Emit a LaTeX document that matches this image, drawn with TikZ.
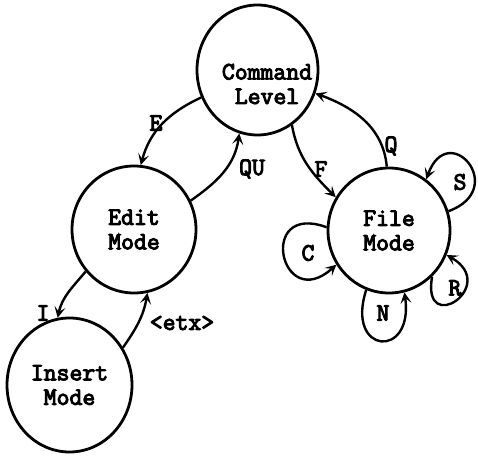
\documentclass[tikz,border=0pt]{standalone}
\usepackage{fontspec}
\setmonofont{Latin Modern Mono}[AutoFakeBold=4]
\usetikzlibrary{shapes.geometric,arrows.meta}
\begin{document}
\begin{tikzpicture}[x=1pt,y=1pt,
  state/.style={draw,ellipse,line width=2.8pt,inner sep=0pt},
  txt/.style={font=\ttfamily\bfseries\fontsize{25}{24.5}\selectfont,align=center,inner sep=0pt},
  lbl/.style={font=\ttfamily\bfseries\fontsize{25}{24}\selectfont,inner sep=0pt},
  arr/.style={line width=2.4pt,-{Stealth[length=11pt,width=11pt,inset=5pt]}}]
\useasboundingbox (0,0) rectangle (478,455);
% states
\node[state,minimum width=121pt,minimum height=130pt] (CL) at (257.5,385) {};
\node[txt] (CLt) at (267,371) {Command\\Level};
\node[state,minimum width=124pt,minimum height=127pt,txt] (ED) at (134,225.5) {Edit\\Mode};
\node[state,minimum width=122pt,minimum height=125pt,txt] (FM) at (389,224.5) {File\\Mode};
\node[state,minimum width=125pt,minimum height=134pt,txt] (IM) at (69.5,70) {Insert\\Mode};
% transitions
\draw[arr] (CL.206) to[out=205,in=75] (ED.84);
\draw[arr] (ED.27) to[out=35,in=262] (CL.254);
\draw[arr] (CL.302) to[out=280,in=135] (FM.148);
\draw[arr] (FM.92) to[out=95,in=340] (CL.338);
\draw[arr] (ED.221) to[out=230,in=78] (IM.100);
\draw[arr] (IM.35) to[out=55,in=260] (ED.282);
% self loops
\draw[arr] (FM.18) .. controls +(20:65) and +(70:65) .. (FM.54);
\draw[arr] (FM.177) .. controls +(160:75) and +(222:75) .. (FM.213);
\draw[arr] (FM.249) .. controls +(252:68) and +(278:68) .. (FM.284);
\draw[arr] (FM.313) .. controls +(260:62) and +(330:62) .. (FM.337);
% labels
\node[lbl] (lE) at (156,332) {E};
\node[lbl] (lQU) at (252,286) {QU};
\node[lbl] (lF) at (321,286) {F};
\node[lbl] (lQ) at (391,309) {Q};
\node[lbl] (lI) at (43,142) {I};
\node[lbl] (letx) at (182,132) {<etx>};
\node[lbl] (lS) at (460,273) {S};
\node[lbl] (lC) at (308,202) {C};
\node[lbl] (lN) at (383,142) {N};
\node[lbl] (lR) at (455,167) {R};
\end{tikzpicture}
\end{document}
